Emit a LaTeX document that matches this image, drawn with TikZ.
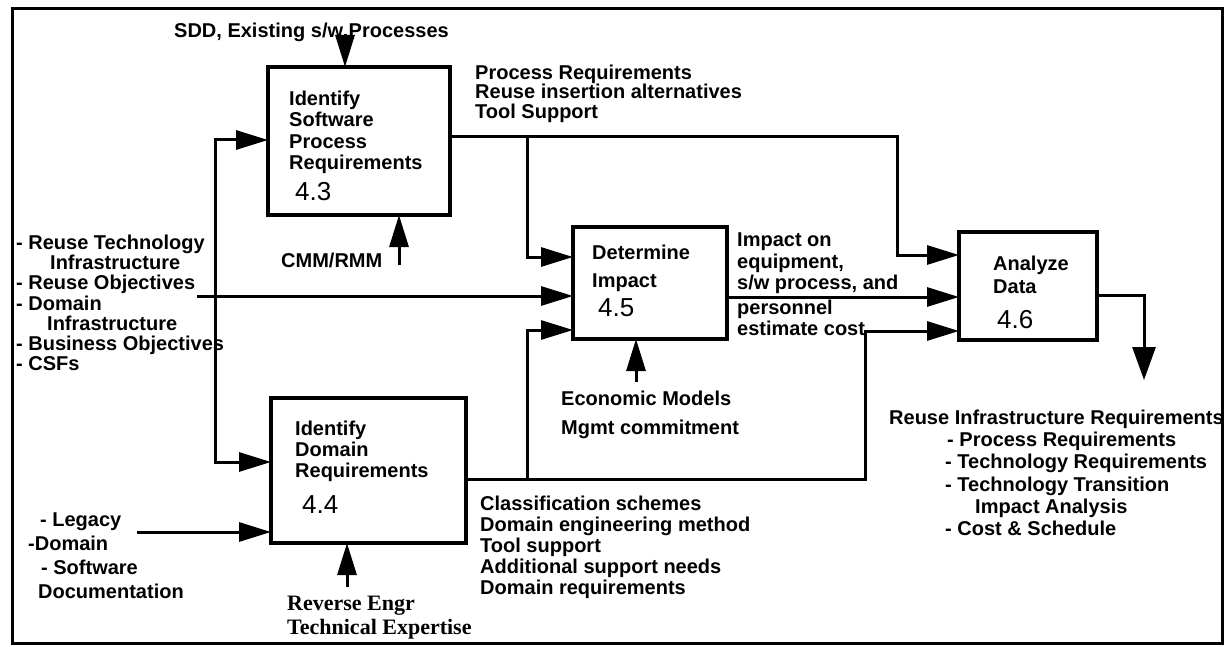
\documentclass[tikz,border=0pt]{standalone}
\usepackage{fontspec}
\setmainfont{Liberation Sans}
\newfontfamily\numfont{Liberation Sans}
\newfontfamily\romfont{Liberation Serif}
\usetikzlibrary{arrows.meta,calc}

\begin{document}
\begin{tikzpicture}[x=1pt,y=-1pt,
  procbox/.style={draw, line width=3.5pt, inner sep=0pt, outer sep=0pt},
  flow/.style={line width=3pt, line cap=rect, line join=miter,
    -{Triangle[length=32pt,width=19pt]}},
  bigflow/.style={line width=3pt, line cap=rect, line join=miter,
    -{Triangle[length=33pt,width=23pt]}},
  lbl/.style={anchor=north west, inner sep=0pt, align=left,
    font=\bfseries\fontsize{20}{#1}\selectfont},
  lbl/.default=21,
  num/.style={anchor=west, inner sep=0pt, font=\numfont\fontsize{26}{26}\selectfont},
  rom/.style={anchor=north west, inner sep=0pt, align=left,
    font=\romfont\bfseries\fontsize{22}{24}\selectfont},
]
\useasboundingbox (0,0) rectangle (1230,647);
\fill[white] (0,0) rectangle (1230,647);
\draw[line width=3pt] (12,9) rectangle (1222,643);

% activity boxes
\node[procbox, minimum width=182pt, minimum height=148pt] (b43) at (359,141) {};
\node[procbox, minimum width=195pt, minimum height=145pt] (b44) at (368.5,470.5) {};
\node[procbox, minimum width=154pt, minimum height=112pt] (b45) at (650,283) {};
\node[procbox, minimum width=138pt, minimum height=108pt] (b46) at (1028,286) {};

% box titles and numbers
\node[lbl=21.5] (t43) at (289,90.8) {Identify\\Software\\Process\\Requirements};
\node[num] (n43) at (295,192) {4.3};
\node[lbl=21] (t44) at (295,420.8) {Identify\\Domain\\Requirements};
\node[num] (n44) at (302,505) {4.4};
\node[lbl=28] (t45) at (592,244.8) {Determine\\Impact};
\node[num] (n45) at (598,308) {4.5};
\node[lbl=23] (t46) at (993,255.8) {Analyze\\Data};
\node[num] (n46) at (997,320) {4.6};

% inputs, controls and outputs
\node[lbl] (sdd) at (174,22.8) {SDD, Existing s/w Processes};
\node[lbl] (cmm) at (281,252.8) {CMM/RMM};
\node[lbl=20.2] (inputs) at (16,234.8) {- Reuse Technology\\\hspace*{34pt}Infrastructure\\- Reuse Objectives\\- Domain\\\hspace*{31pt}Infrastructure\\- Business Objectives\\- CSFs};
\node[lbl=24] (legacy) at (28,512.8) {\hspace*{12pt}- Legacy\\-Domain\\\hspace*{13pt}- Software\\\hspace*{10pt}Documentation};
\node[rom] (rev) at (287,595.4) {Reverse Engr\\Technical Expertise};
\node[lbl=19.5] (procout) at (475,64.8) {Process Requirements\\Reuse insertion alternatives\\Tool Support};
\node[lbl=21.5] (imp1) at (737,232.8) {Impact on\\equipment,\\s/w process, and};
\node[lbl=21] (imp2) at (737,299.8) {personnel\\estimate cost};
\node[lbl=29] (econ) at (561,390.8) {Economic Models\\Mgmt commitment};
\node[lbl=21] (domout) at (480,495.8) {Classification schemes\\Domain engineering method\\Tool support\\Additional support needs\\Domain requirements};
\node[lbl=22.2] (final) at (889,409.8) {Reuse Infrastructure Requirements\\\hspace*{58pt}- Process Requirements\\\hspace*{56pt}- Technology Requirements\\\hspace*{56pt}- Technology Transition\\\hspace*{86pt}Impact Analysis\\\hspace*{56pt}- Cost \& Schedule};

% connector end points and corners
\coordinate (sdds) at (345,38);
\coordinate (cmms) at (399,263);
\coordinate (jtop) at (215,140);
\coordinate (jbot) at (215,462);
\coordinate (objs) at (198,296);
\coordinate (legs) at (138,532);
\coordinate (revs) at (347,585);
\coordinate (econs) at (636,380);
\coordinate (t1) at (897,137);
\coordinate (br1) at (527,137);
\coordinate (a45a) at (527,257);
\coordinate (a46a) at (897,255);
\coordinate (mid) at (740,297);
\coordinate (q2) at (865,479);
\coordinate (br2) at (527,479);
\coordinate (a45c) at (527,330);
\coordinate (a46c) at (865,331);
\coordinate (r1) at (1144,295);
\coordinate (rtip) at (1144,380);

% connectors
\draw[flow] (sdds) -- (sdds |- b43.north);
\draw[flow] (cmms) -- (cmms |- b43.south);
\draw[flow] (jbot) -- (jtop) -- (jtop -| b43.west);
\draw[flow] (jtop) -- (jbot) -- (jbot -| b44.west);
\draw[flow] (objs) -- (objs -| b45.west);
\draw[flow] (legs) -- (legs -| b44.west);
\draw[flow] (revs) -- (revs |- b44.south);
\draw[flow] (t1 -| b43.east) -- (t1) -- (a46a) -- (a46a -| b46.west);
\draw[flow] (br1) -- (a45a) -- (a45a -| b45.west);
\draw[flow] (mid -| b45.east) -- (mid -| b46.west);
\draw[flow] (q2 -| b44.east) -- (q2) -- (a46c) -- (a46c -| b46.west);
\draw[flow] (br2) -- (a45c) -- (a45c -| b45.west);
\draw[flow] (econs) -- (econs |- b45.south);
\draw[bigflow] (r1 -| b46.east) -- (r1) -- (rtip);
\end{tikzpicture}
\end{document}
